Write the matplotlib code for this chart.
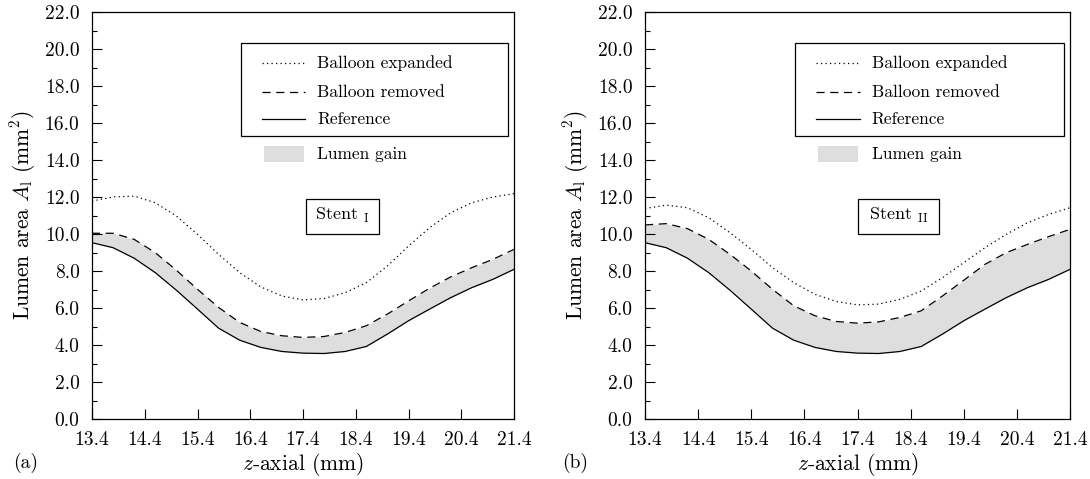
import matplotlib
matplotlib.use("Agg")
import matplotlib.pyplot as plt
from matplotlib.lines import Line2D
from matplotlib.patches import Rectangle

plt.rcParams['font.family'] = ['cmr10', 'DejaVu Serif']
plt.rcParams['mathtext.fontset'] = 'cm'
plt.rcParams['axes.formatter.use_mathtext'] = True
plt.rcParams['axes.unicode_minus'] = False

z = [13.4, 13.8, 14.2, 14.6, 15.0, 15.4, 15.8, 16.2, 16.6, 17.0, 17.4,
     17.8, 18.2, 18.6, 19.0, 19.4, 19.8, 20.2, 20.6, 21.0, 21.4]

reference = [9.53, 9.26, 8.69, 7.91, 6.96, 5.94, 4.91, 4.26, 3.87, 3.65, 3.56,
             3.54, 3.65, 3.92, 4.59, 5.31, 5.94, 6.56, 7.10, 7.55, 8.09]

removed_I = [10.04, 10.04, 9.71, 8.99, 8.04, 7.01, 6.03, 5.22, 4.73, 4.50, 4.41,
             4.46, 4.68, 5.04, 5.67, 6.38, 7.07, 7.68, 8.18, 8.63, 9.17]
expanded_I = [11.78, 12.00, 12.05, 11.69, 10.97, 9.98, 8.90, 7.91, 7.14, 6.65, 6.44,
              6.51, 6.83, 7.37, 8.27, 9.35, 10.34, 11.15, 11.69, 12.00, 12.18]

removed_II = [10.49, 10.56, 10.29, 9.71, 8.90, 8.00, 7.01, 6.12, 5.58, 5.27, 5.18,
              5.25, 5.49, 5.85, 6.65, 7.50, 8.36, 8.99, 9.44, 9.86, 10.25]
expanded_II = [11.38, 11.56, 11.42, 10.88, 10.07, 9.17, 8.18, 7.37, 6.74, 6.35, 6.17,
               6.21, 6.47, 6.92, 7.64, 8.45, 9.26, 9.98, 10.61, 11.06, 11.42]

x_ticks = [13.4, 14.4, 15.4, 16.4, 17.4, 18.4, 19.4, 20.4, 21.4]
y_ticks = [0.0, 2.0, 4.0, 6.0, 8.0, 10.0, 12.0, 14.0, 16.0, 18.0, 20.0, 22.0]
y_minor = [1.0, 3.0, 5.0, 7.0, 9.0, 11.0, 13.0, 15.0, 17.0, 19.0, 21.0]

legend_labels = ["Balloon expanded", "Balloon removed", "Reference"]
gain_label = "Lumen gain"
stent_labels = [r"Stent $_{\mathrm{I}}$", r"Stent $_{\mathrm{II}}$"]
panel_labels = ["(a)", "(b)"]

fill_color = "#dedede"
dash_style = (0, (6.5, 4.5))
dot_style = (0, (1.0, 2.6))

fig = plt.figure(figsize=(10.9, 4.79), dpi=100)
axes_rects = [[92/1090, 1-419/479, 422/1090, 407/479],
              [645/1090, 1-419/479, 425/1090, 407/479]]
series = [(expanded_I, removed_I), (expanded_II, removed_II)]
stent_boxes = [(0.507, 0.680), (0.502, 0.692)]
panel_x = [0.012, 0.516]

for i, rect in enumerate(axes_rects):
    ax = fig.add_axes(rect)
    exp_v, rem_v = series[i]
    ax.fill_between(z, reference, rem_v, color=fill_color, lw=0, zorder=1)
    ax.plot(z, exp_v, color='black', lw=0.9, linestyle=dot_style, zorder=3)
    ax.plot(z, rem_v, color='black', lw=0.9, linestyle=dash_style, zorder=3)
    ax.plot(z, reference, color='black', lw=0.9, linestyle='-', zorder=3)

    ax.set_xlim(13.4, 21.4)
    ax.set_ylim(0, 22)
    ax.set_xticks(x_ticks)
    ax.set_xticklabels([f"{t:.1f}" for t in x_ticks])
    ax.set_yticks(y_ticks)
    ax.set_yticklabels([f"{t:.1f}" for t in y_ticks])
    ax.set_yticks(y_minor, minor=True)
    ax.tick_params(axis='both', which='major', direction='in', length=7,
                   width=0.8, labelsize=14, top=False, right=False)
    ax.tick_params(axis='x', which='major', pad=9)
    ax.tick_params(axis='y', which='major', pad=9)
    ax.tick_params(axis='y', which='minor', direction='in', length=3.5,
                   width=0.8, right=False)
    for s in ax.spines.values():
        s.set_linewidth(0.9)

    ax.set_xlabel(r"$z$-axial (mm)", fontsize=15.5, labelpad=1)
    ax.set_ylabel(r"Lumen area $A_{\mathrm{l}}$ (mm$^2$)", fontsize=15.5, labelpad=5)

    # legend frame
    ax.add_patch(Rectangle((0.353, 0.695), 0.633, 0.229, transform=ax.transAxes,
                           fill=False, lw=0.9, edgecolor='black', zorder=5))
    rows_y = [0.875, 0.803, 0.737]
    styles = [dot_style, dash_style, '-']
    for ry, st, lab in zip(rows_y, styles, legend_labels):
        ax.add_line(Line2D([0.403, 0.505], [ry, ry], transform=ax.transAxes,
                           color='black', lw=0.9, linestyle=st, zorder=6))
        ax.text(0.533, ry, lab, transform=ax.transAxes, fontsize=12.5,
                va='center', ha='left', zorder=6)
    ax.add_patch(Rectangle((0.408, 0.631), 0.094, 0.040, transform=ax.transAxes,
                           color=fill_color, lw=0, zorder=6))
    ax.text(0.533, 0.651, gain_label, transform=ax.transAxes, fontsize=12.5,
            va='center', ha='left', zorder=6)

    # stent box
    bx0, bx1 = stent_boxes[i]
    ax.add_patch(Rectangle((bx0, 0.455), bx1 - bx0, 0.086, transform=ax.transAxes,
                           fill=False, lw=0.9, edgecolor='black', zorder=5))
    ax.text((bx0 + bx1) / 2, 0.500, stent_labels[i], transform=ax.transAxes,
            fontsize=13, va='center', ha='center', zorder=6)

    fig.text(panel_x[i], 1 - 463/479, panel_labels[i], fontsize=14,
             va='center', ha='left')

fig.savefig("out.png", dpi=100)
